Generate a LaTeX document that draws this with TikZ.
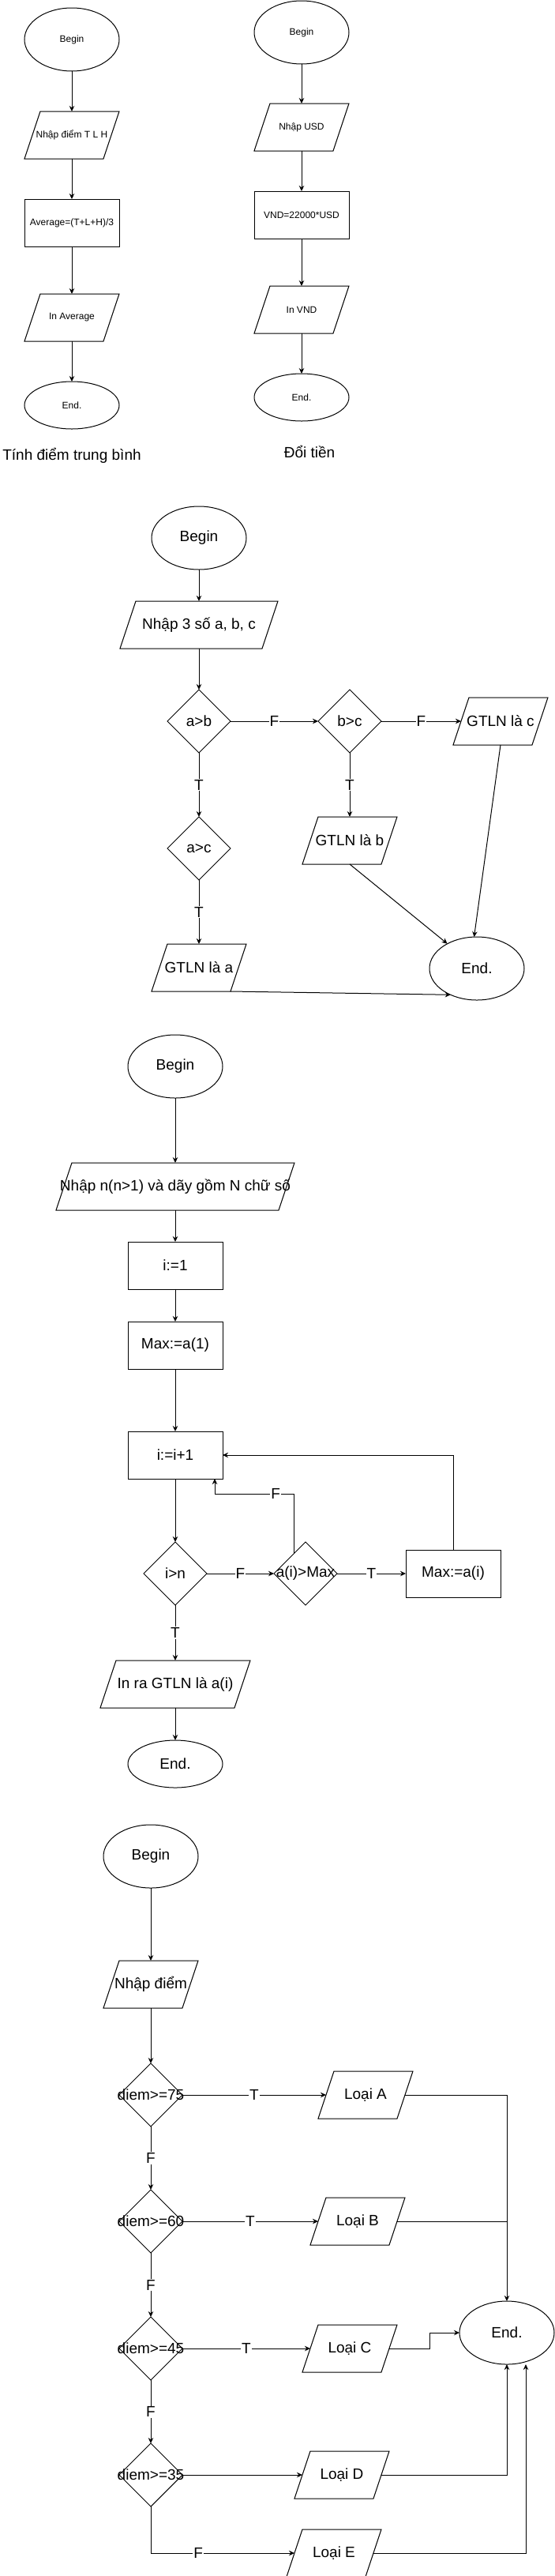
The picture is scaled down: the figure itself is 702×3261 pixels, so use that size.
\documentclass[tikz,border=0pt]{standalone}
\usepackage{fontspec}
\setmainfont{Liberation Sans}
\usetikzlibrary{shapes.geometric,arrows.meta,calc}
\newcommand\ioframe[1]{\draw[line width=1pt] ([xshift=10pt]#1.north west) -- ([xshift=10pt]#1.north east) -- ([xshift=-10pt]#1.south east) -- ([xshift=-10pt]#1.south west) -- cycle;}
\newcommand\zw[1]{\makebox[0pt][c]{#1}}
\begin{document}
\begin{tikzpicture}[x=1pt,y=-1pt,
  every node/.style={font=\fontsize{19}{23}\selectfont},
  smalltxt/.style={font=\fontsize{12}{14}\selectfont},
  term/.style={draw, line width=1pt, ellipse, inner sep=0pt, outer sep=0pt, minimum width=120pt, minimum height=#1},
  term/.default=80pt,
  proc/.style={draw, line width=1pt, rectangle, inner sep=0pt, outer sep=0pt, minimum width=120pt, minimum height=60pt},
  io/.style={rectangle, inner sep=0pt, outer sep=0pt, minimum height=60pt, minimum width=#1},
  io/.default=100pt,
  dec/.style={draw, line width=1pt, diamond, aspect=1, inner sep=0pt, outer sep=0pt, minimum width=80pt, minimum height=80pt},
  arr/.style={line width=1pt, -{Stealth[length=7pt,width=6.5pt]}},
  ln/.style={line width=1pt},
  lbl/.style={fill=white, inner sep=1pt}]
\useasboundingbox (0,0) rectangle (702,3261);

% ---------- Chart 1 ----------
\node[term,smalltxt] (b1) at (91,50) {Begin};
\node[io,smalltxt] (p1) at (91,171) {Nhập điểm T L H};
\node[proc,smalltxt] (c1) at (91,282) {Average=(T+L+H)/3};
\node[io,smalltxt] (o1) at (91,402) {In Average};
\node[term=60pt,smalltxt] (e1) at (91,513) {End.};
\node (t1) at (91,577) {Tính điểm trung bình};
\ioframe{p1}\ioframe{o1}
\draw[arr] (b1.south) -- (p1.north);
\draw[arr] (p1.south) -- (c1.north);
\draw[arr] (c1.south) -- (o1.north);
\draw[arr] (o1.south) -- (e1.north);

% ---------- Chart 2 ----------
\node[term,smalltxt] (b2) at (382,41) {Begin};
\node[io,smalltxt] (p2) at (382,161) {Nhập USD};
\node[proc,smalltxt] (c2) at (382,272) {VND=22000*USD};
\node[io,smalltxt] (o2) at (382,392) {In VND};
\node[term=60pt,smalltxt] (e2) at (382,503) {End.};
\node (t2) at (392,572) {Đổi tiền};
\ioframe{p2}\ioframe{o2}
\draw[arr] (b2.south) -- (p2.north);
\draw[arr] (p2.south) -- (c2.north);
\draw[arr] (c2.south) -- (o2.north);
\draw[arr] (o2.south) -- (e2.north);

% ---------- Chart 3 ----------
\node[term] (b3) at (252,681) {Begin};
\node[io=180pt] (p3) at (252,791) {Nhập 3 số a, b, c};
\node[dec] (d1) at (252,913) {a>b};
\node[dec] (d2) at (443,913) {b>c};
\node[io] (gc) at (634,913) {GTLN là c};
\node[dec] (d3) at (252,1074) {a>c};
\node[io] (gb) at (443,1064) {GTLN là b};
\node[io] (ga) at (252,1225) {GTLN là a};
\node[term] (e3) at (604,1226) {End.};
\ioframe{p3}\ioframe{gc}\ioframe{gb}\ioframe{ga}
\draw[arr] (b3.south) -- (p3.north);
\draw[arr] (p3.south) -- (d1.north);
\draw[arr] (d1.east) -- node[lbl]{F} (d2.west);
\draw[arr] (d2.east) -- node[lbl]{F} (gc.west);
\draw[arr] (d1.south) -- node[lbl]{T} (d3.north);
\draw[arr] (d2.south) -- node[lbl]{T} (gb.north);
\draw[arr] (d3.south) -- node[lbl]{T} (ga.north);
\draw[arr] (gc.south) -- (e3.95);
\draw[arr] (gb.south) -- (e3.140);
\coordinate (gacorner) at ($(ga.south east)+(-10,0)$);
\draw[arr] (gacorner) -- (e3.225);

% ---------- Chart 4 ----------
\node[term] (b4) at (222,1350) {Begin};
\node[io=282pt] (p4) at (222,1502) {\zw{Nhập n(n>1) và dãy gồm N chữ số}};
\node[proc] (c41) at (222,1602) {i:=1};
\node[proc] (c42) at (222,1703) {Max:=a(1)};
\node[proc] (c43) at (222,1842) {i:=i+1};
\node[dec] (d41) at (222,1992) {i>n};
\node[dec] (d42) at (387,1992) {\zw{a(i)>Max}};
\node[proc] (c44) at (574,1992) {Max:=a(i)};
\node[io=170pt] (o4) at (222,2132) {In ra GTLN là a(i)};
\node[term=60pt] (e4) at (222,2233) {End.};
\ioframe{p4}\ioframe{o4}
\draw[arr] (b4.south) -- (p4.north);
\draw[arr] (p4.south) -- (c41.north);
\draw[arr] (c41.south) -- (c42.north);
\draw[arr] (c42.south) -- (c43.north);
\draw[arr] (c43.south) -- (d41.north);
\draw[arr] (d41.east) -- node[lbl]{F} (d42.west);
\draw[arr] (d42.east) -- node[lbl]{T} (c44.west);
\draw[arr] (c44.north) |- (c43.east);
\draw[arr] (d41.south) -- node[lbl]{T} (o4.north);
\draw[arr] (o4.south) -- (e4.north);
\coordinate (fs) at ($(d42.north)!0.36!(d42.west)$);
\coordinate (fb) at (272,1891);
\draw[arr] (fs) |- node[lbl,pos=0.617]{F} (fb) -- (fb |- c43.south);

% ---------- Chart 5 ----------
\node[term] (b5) at (191,2350) {Begin};
\node[io] (p5) at (191,2512) {\zw{Nhập điểm}};
\node[dec] (d51) at (191,2652) {\zw{diem>=75}};
\node[io] (la) at (463,2652) {Loại A};
\node[dec] (d52) at (191,2812) {\zw{diem>=60}};
\node[io] (lb) at (453,2812) {Loại B};
\node[dec] (d53) at (191,2973) {\zw{diem>=45}};
\node[io] (lc) at (443,2973) {Loại C};
\node[dec] (d54) at (191,3133) {\zw{diem>=35}};
\node[io] (ld) at (433,3133) {Loại D};
\node[io] (le) at (423,3232) {Loại E};
\node[term] (e5) at (642,2953) {End.};
\ioframe{p5}\ioframe{la}\ioframe{lb}\ioframe{lc}\ioframe{ld}\ioframe{le}
\draw[arr] (b5.south) -- (p5.north);
\draw[arr] (p5.south) -- (d51.north);
\draw[arr] (d51.south) -- node[lbl]{F} (d52.north);
\draw[arr] (d52.south) -- node[lbl]{F} (d53.north);
\draw[arr] (d53.south) -- node[lbl]{F} (d54.north);
\draw[arr] (d51.east) -- node[lbl]{T} (la.west);
\draw[arr] (d52.east) -- node[lbl]{T} (lb.west);
\draw[arr] (d53.east) -- node[lbl]{T} (lc.west);
\draw[arr] (d54.east) -- (ld.west);
\draw[arr] (d54.south) |- node[lbl,pos=0.665]{F} (le.west);
\draw[arr] (la.east) -| (e5.north);
\draw[ln] (lb.east) -- (lb.east -| e5.north);
\coordinate (cturn) at (544,2963);
\draw[arr] (lc.east) -- (lc.east -| cturn) -- (cturn |- e5.west) -- (e5.west);
\draw[arr] (ld.east) -| (e5.south);
\coordinate (etip) at ($(e5.south)+(24,0)$);
\draw[arr] (le.east) -| (etip);
\end{tikzpicture}
\end{document}
